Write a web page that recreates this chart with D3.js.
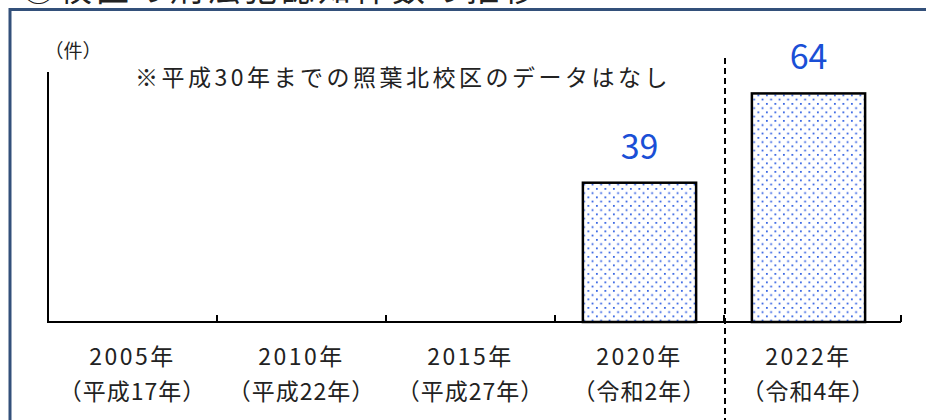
<!DOCTYPE html>
<html lang="ja">
<head>
<meta charset="utf-8">
<script src="https://cdn.jsdelivr.net/npm/d3@7"></script>
<style>
  html, body { margin: 0; padding: 0; background: #fff; }
  svg { display: block; }
  text { font-family: "Noto Sans CJK JP", "Noto Sans", sans-serif; }
</style>
</head>
<body>
<div id="chart"></div>
<script>
// 年次（調査年）と元号表記
const years = ["2005年", "2010年", "2015年", "2020年", "2022年"];
const eraLabels = ["（平成17年）", "（平成22年）", "（平成27年）", "（令和2年）", "（令和4年）"];
// 刑法犯認知件数（平成30年までは照葉北校区のデータなし）
const counts = [null, null, null, 39, 64];

const titleText = "①校区の刑法犯認知件数の推移";
const unitText = "（件）";
const noteText = "※平成30年までの照葉北校区のデータはなし";

const W = 926, H = 420;
const svg = d3.select("#chart").append("svg")
  .attr("width", W).attr("height", H);

svg.append("rect").attr("width", W).attr("height", H).attr("fill", "#fff");

// 点描パターン（棒の塗り）
const defs = svg.append("defs");
const pat = defs.append("pattern")
  .attr("id", "dots")
  .attr("patternUnits", "userSpaceOnUse")
  .attr("width", 8.5).attr("height", 8.5);
pat.append("rect").attr("width", 8.5).attr("height", 8.5).attr("fill", "#fff");
pat.append("rect").attr("x", 1).attr("y", 1).attr("width", 1.7).attr("height", 1.7).attr("fill", "#1f52e0");
pat.append("rect").attr("x", 5.25).attr("y", 5.25).attr("width", 1.7).attr("height", 1.7).attr("fill", "#1f52e0");

// 枠線と見出し
svg.append("rect")
  .attr("x", 10).attr("y", 9.5)
  .attr("width", 1000).attr("height", 1000)
  .attr("fill", "none")
  .attr("stroke", "#33507a").attr("stroke-width", 3);

svg.append("text")
  .attr("x", 22).attr("y", 1)
  .attr("font-size", 33).attr("letter-spacing", 4)
  .attr("fill", "#222")
  .text(titleText);

// スケール
const x = d3.scaleBand().domain(years).range([48, 893]).padding(0);
const y = d3.scaleLinear().domain([0, 70]).range([322, 72]);
const axisEnd = 901;

// 棒
const barW = x.bandwidth() * 0.67;
const rows = years.map((yr, i) => ({ yr, era: eraLabels[i], v: counts[i] }));
const withData = rows.filter(d => d.v != null);

svg.append("g").selectAll("rect")
  .data(withData).join("rect")
  .attr("x", d => x(d.yr) + (x.bandwidth() - barW) / 2)
  .attr("y", d => y(d.v))
  .attr("width", barW)
  .attr("height", d => y(0) - y(d.v))
  .attr("fill", "url(#dots)")
  .attr("stroke", "#000").attr("stroke-width", 2.5);

// 数値ラベル
svg.append("g").selectAll("text")
  .data(withData).join("text")
  .attr("x", d => x(d.yr) + x.bandwidth() / 2)
  .attr("y", d => y(d.v) - 24)
  .attr("text-anchor", "middle")
  .attr("font-size", 34)
  .attr("fill", "#1a4fd6")
  .text(d => d.v);

// 縦軸
svg.append("line")
  .attr("x1", 48).attr("x2", 48)
  .attr("y1", y(70)).attr("y2", y(0))
  .attr("stroke", "#000").attr("stroke-width", 2);

// 横軸と目盛り（内向き）
svg.append("line")
  .attr("x1", 47).attr("x2", axisEnd)
  .attr("y1", y(0)).attr("y2", y(0))
  .attr("stroke", "#000").attr("stroke-width", 2);

const tickXs = years.slice(1).map(d => x(d)).concat([axisEnd]);
svg.append("g").selectAll("line")
  .data(tickXs).join("line")
  .attr("x1", d => d).attr("x2", d => d)
  .attr("y1", y(0)).attr("y2", y(0) - 7)
  .attr("stroke", "#000").attr("stroke-width", 2);

// 区切りの破線（2020年と2022年の間）
const sepX = x("2022年") + 1;
svg.append("line")
  .attr("x1", sepX).attr("x2", sepX)
  .attr("y1", 58).attr("y2", H)
  .attr("stroke", "#000").attr("stroke-width", 2)
  .attr("stroke-dasharray", "6,4");

// 横軸ラベル（2行）
const lab = svg.append("g").attr("fill", "#222").attr("font-size", 23);
lab.selectAll("text.yr")
  .data(rows).join("text").attr("class", "yr")
  .attr("x", d => x(d.yr) + x.bandwidth() / 2)
  .attr("y", 365)
  .attr("text-anchor", "middle")
  .attr("letter-spacing", 2.5)
  .text(d => d.yr);
lab.selectAll("text.era")
  .data(rows).join("text").attr("class", "era")
  .attr("x", d => x(d.yr) + x.bandwidth() / 2)
  .attr("y", 400)
  .attr("text-anchor", "middle")
  .attr("letter-spacing", 1)
  .text(d => d.era);

// 単位と注記
svg.append("text")
  .attr("x", 73).attr("y", 58)
  .attr("text-anchor", "middle")
  .attr("font-size", 19).attr("fill", "#222")
  .text(unitText);

svg.append("text")
  .attr("x", 135).attr("y", 86)
  .attr("font-size", 23).attr("letter-spacing", 3.5)
  .attr("fill", "#222")
  .text(noteText);
</script>
</body>
</html>
